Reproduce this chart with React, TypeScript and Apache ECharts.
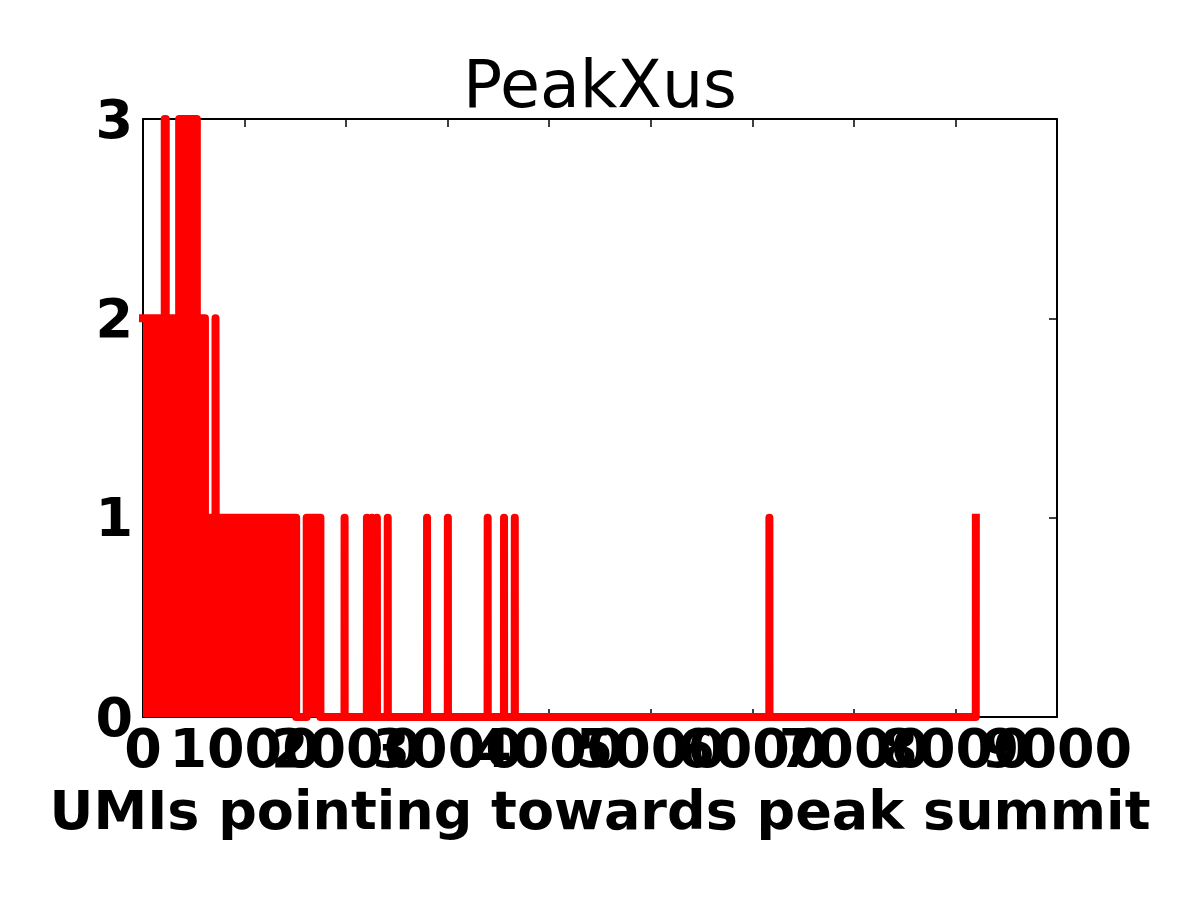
import { useEffect, useRef } from "react";
import * as echarts from "echarts";

// axis ranges / ticks
const xTicks = [0, 1000, 2000, 3000, 4000, 5000, 6000, 7000, 8000, 9000];
const yMax = 3;
const yStep = 1;

// dense low-UMI region: [from, to, count]
const denseRuns: [number, number, number][] = [
  [0, 214, 2],
  [214, 224, 3],
  [224, 356, 2],
  [356, 530, 3],
  [530, 610, 2],
  [610, 714, 1],
  [714, 716, 2],
  [716, 1508, 1],
  [1508, 1612, 0],
  [1612, 1747, 1],
];

// isolated single-count spikes further out
const spikeXs = [1985, 2205, 2254, 2303, 2410, 2797, 3002, 3394, 3555, 3661, 6168];
const spikeCount = 1;

// the line stops on its last point
const lastPoint: [number, number] = [8201, 1];

const FONT = "DejaVu Sans";

function buildLine(): number[][] {
  const pts: number[][] = [];
  denseRuns.forEach(([from, to, count]) => {
    pts.push([from, count], [to, count]);
  });
  pts.push([denseRuns[denseRuns.length - 1][1], 0]);
  spikeXs.forEach((x) => {
    pts.push([x - 1, 0], [x, spikeCount], [x + 1, 0]);
  });
  pts.push([lastPoint[0] - 1, 0], lastPoint);
  return pts;
}

export default function App() {
  const ref = useRef<HTMLDivElement | null>(null);

  useEffect(() => {
    const el = ref.current;
    if (!el) {
      return undefined;
    }
    const chart = echarts.init(el, undefined, { renderer: "svg" });

    const axisLine = { show: true, onZero: false, lineStyle: { color: "#000", width: 2 } };
    const axisTick = { show: true, inside: true, length: 8, lineStyle: { color: "#000", width: 1.5 } };
    const xMin = xTicks[0];
    const xMax = xTicks[xTicks.length - 1];
    const xStep = xTicks[1] - xTicks[0];

    chart.setOption({
      animation: false,
      title: {
        text: "PeakXus",
        left: "center",
        top: 47,
        textStyle: { color: "#000", fontFamily: FONT, fontWeight: "normal", fontSize: 65 },
      },
      grid: { left: 143, top: 119, width: 914, height: 598, containLabel: false },
      xAxis: [
        {
          type: "value",
          min: xMin,
          max: xMax,
          interval: xStep,
          axisLine,
          axisTick,
          splitLine: { show: false },
          axisLabel: { show: false },
          name: "UMIs pointing towards peak summit",
          nameLocation: "middle",
          nameGap: 66,
          nameTextStyle: { color: "#000", fontFamily: FONT, fontWeight: "bold", fontSize: 54 },
        },
        {
          type: "value",
          position: "top",
          min: xMin,
          max: xMax,
          interval: xStep,
          axisLine,
          axisTick,
          splitLine: { show: false },
          axisLabel: { show: false },
        },
      ],
      yAxis: [
        {
          type: "value",
          min: 0,
          max: yMax,
          interval: yStep,
          axisLine,
          axisTick,
          splitLine: { show: false },
          axisLabel: {
            color: "#000",
            fontFamily: FONT,
            fontWeight: "bold",
            fontSize: 54,
            margin: 10,
            padding: [0, 0, 6, 0],
          },
        },
        {
          type: "value",
          position: "right",
          min: 0,
          max: yMax,
          interval: yStep,
          axisLine,
          axisTick,
          splitLine: { show: false },
          axisLabel: { show: false },
        },
      ],
      series: [
        {
          type: "line",
          xAxisIndex: 0,
          yAxisIndex: 0,
          data: buildLine(),
          symbol: "none",
          showSymbol: false,
          clip: true,
          lineStyle: { color: "#ff0000", width: 8, cap: "square", join: "round" },
          areaStyle: { color: "#ff0000", opacity: 1 },
          emphasis: { disabled: true },
        },
      ],
    });

    // x tick labels drawn at the axis' own pixel positions, all of them (they overlap in the original)
    const baseY = chart.convertToPixel({ yAxisIndex: 0 }, 0) as number;
    chart.setOption({
      graphic: xTicks.map((v) => ({
        type: "text",
        x: chart.convertToPixel({ xAxisIndex: 0 }, v) as number,
        y: baseY + 4,
        z: 10,
        style: {
          text: String(v),
          fill: "#000",
          font: `bold 54px "${FONT}"`,
          textAlign: "center",
          textVerticalAlign: "top",
        },
      })),
    });

    return () => {
      chart.dispose();
    };
  }, []);

  return (
    <div
      ref={ref}
      style={{ position: "absolute", left: 0, top: 0, width: 1200, height: 900, background: "#fff" }}
    />
  );
}
